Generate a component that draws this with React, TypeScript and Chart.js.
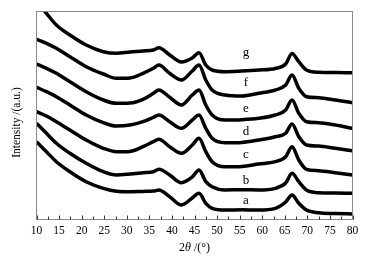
import React, { useEffect, useRef } from "react";
import { Chart, registerables } from "chart.js";

Chart.register(...registerables);

// 2θ (°) sampling positions
const twoTheta = [10, 12.2, 14.4, 17.4, 21, 24.8, 27.7, 30.7, 33.6, 35.9, 37.1, 39.5, 42.1, 44.5, 46, 47.5, 48.9, 51.8, 55.5, 59.2, 62.9, 65.2, 66.6, 68.1, 69.8, 72.5, 76.2, 80];

// Intensity (a.u., stacked offsets included) for each trace
const seriesA = [77.3, 67.3, 57.3, 47.3, 37.3, 30.7, 27.8, 27.3, 27.6, 27.9, 29, 22.3, 14, 21, 25.7, 15.7, 10.7, 9, 9.2, 9, 10.7, 17, 24, 15.7, 9, 6.3, 5.5, 5];
const seriesB = [95.7, 85.7, 75.7, 65.7, 55.7, 47.3, 44, 45, 46.3, 47.3, 49.7, 44, 36.3, 42, 49, 37.3, 32.3, 29, 29.3, 29, 30.7, 36, 45.7, 37.3, 29, 26.3, 26, 25.7];
const seriesC = [107.3, 103, 97.3, 89, 79, 70.7, 67.3, 67.6, 72.3, 77.3, 79.7, 72.3, 65.7, 74, 80.7, 67.3, 57.3, 52.3, 52.6, 55, 57.3, 62.3, 72.3, 59, 49.7, 48.3, 46.3, 44];
const seriesD = [131.7, 127.3, 122.3, 114, 104, 96.3, 93, 94, 97.3, 101.7, 104, 97.3, 90.7, 99, 104, 90.7, 80.7, 76.3, 76.6, 79, 82.3, 85.7, 95, 82.3, 74, 73, 70.7, 68.3];
const seriesE = [155, 150.7, 145.7, 137.3, 127.3, 119, 115.7, 116, 119.7, 125.7, 129, 121.7, 114, 124, 129, 114, 104, 99, 99.3, 100.7, 104, 109, 119, 105.7, 97.3, 96.3, 94, 90.7];
const seriesF = [179.7, 175.7, 170.7, 162.3, 152.3, 145, 140.7, 141, 145.7, 150.7, 154, 145.7, 139, 148, 154, 139, 129, 124, 123, 125.7, 129, 134, 144, 130.7, 122.3, 121.3, 119, 116.3];
const seriesG = [218, 205.7, 194, 184, 174, 167.3, 165.7, 167, 168, 169, 171.3, 164, 157, 161, 166.3, 154, 149, 147.3, 148, 149, 150.5, 155, 165.5, 157.3, 149, 146.7, 146.5, 146.3];

const seriesNames = ["a", "b", "c", "d", "e", "f", "g"];
const allSeries = [seriesA, seriesB, seriesC, seriesD, seriesE, seriesF, seriesG];

// Trace labels (placed in data coordinates)
const labelTwoTheta = [56.4, 56.4, 56.4, 56.4, 56.4, 56.4, 56.4];
const labelIntensity = [15, 35, 61, 84, 107.3, 133, 163.5];

const xMin = 10;
const xMax = 80;
const xMajorStep = 5;
const xMinorStep = 2.5;
const yMin = 0;
const yMax = 208;

const SERIF = "'Liberation Serif', 'Times New Roman', serif";

const decorPlugin = {
  id: "decor",
  afterDatasetsDraw(chart: any) {
    const { ctx, chartArea: ca, scales } = chart;
    const xs = scales.x;
    const ys = scales.y;
    ctx.save();
    // frame
    const l = Math.floor(ca.left) + 0.5;
    const t = Math.floor(ca.top) + 0.5;
    const r = Math.floor(ca.right) + 0.5;
    const b = Math.floor(ca.bottom) + 0.5;
    ctx.strokeStyle = "#8a8a8a";
    ctx.lineWidth = 1;
    ctx.strokeRect(l, t, r - l, b - t);
    // inward ticks on bottom axis
    ctx.strokeStyle = "#333";
    for (let v = xMin; v <= xMax + 1e-6; v += xMinorStep) {
      const px = Math.round(xs.getPixelForValue(v)) + 0.5;
      const major = Math.abs(v / xMajorStep - Math.round(v / xMajorStep)) < 1e-6;
      const len = major ? 4 : 3;
      ctx.beginPath();
      ctx.moveTo(px, b);
      ctx.lineTo(px, b - len);
      ctx.stroke();
    }
    // trace labels
    ctx.fillStyle = "#000";
    ctx.font = `13px ${SERIF}`;
    ctx.textAlign = "center";
    ctx.textBaseline = "alphabetic";
    seriesNames.forEach((n, i) => {
      ctx.fillText(n, xs.getPixelForValue(labelTwoTheta[i]), ys.getPixelForValue(labelIntensity[i]));
    });
    // x title: 2θ /(°)
    ctx.font = `12px ${SERIF}`;
    ctx.textAlign = "left";
    ctx.textBaseline = "middle";
    const p1 = "2";
    const p2 = "θ";
    const p3 = " /(°)";
    const w1 = ctx.measureText(p1).width;
    ctx.font = `italic 12px ${SERIF}`;
    const w2 = ctx.measureText(p2).width;
    ctx.font = `12px ${SERIF}`;
    const w3 = ctx.measureText(p3).width;
    const total = w1 + w2 + w3;
    let sx = (ca.left + ca.right) / 2 - total / 2;
    const ty = 248;
    ctx.fillText(p1, sx, ty);
    sx += w1;
    ctx.font = `italic 12px ${SERIF}`;
    ctx.fillText(p2, sx, ty);
    sx += w2;
    ctx.font = `12px ${SERIF}`;
    ctx.fillText(p3, sx, ty);
    // y title
    ctx.translate(17, 122.5);
    ctx.rotate(-Math.PI / 2);
    ctx.textAlign = "center";
    ctx.font = `11.5px ${SERIF}`;
    ctx.fillText("Intensity /(a.u.)", 0, 0);
    ctx.restore();
  },
};

export default function App() {
  const ref = useRef<HTMLCanvasElement | null>(null);
  useEffect(() => {
    if (!ref.current) return;
    const datasets = allSeries.map((s, i) => ({
      label: seriesNames[i],
      data: twoTheta.map((x, j) => ({ x, y: s[j] })),
      borderColor: "#000",
      borderWidth: 3.5,
      pointRadius: 0,
      cubicInterpolationMode: "monotone" as const,
      fill: false,
    }));
    const chart = new Chart(ref.current, {
      type: "line",
      data: { datasets },
      options: {
        animation: false,
        responsive: false,
        devicePixelRatio: 1,
        layout: { padding: { left: 36.5, top: 11, right: 19.5, bottom: 0 } },
        plugins: { legend: { display: false }, tooltip: { enabled: false } },
        scales: {
          x: {
            type: "linear",
            min: xMin,
            max: xMax,
            grid: { display: false, drawTicks: false },
            border: { display: false },
            ticks: {
              stepSize: xMajorStep,
              autoSkip: false,
              maxRotation: 0,
              padding: 5,
              color: "#000",
              font: { family: SERIF, size: 11.5 },
            },
            afterFit: (scale: any) => {
              scale.height = 44;
            },
          },
          y: {
            type: "linear",
            min: yMin,
            max: yMax,
            display: false,
          },
        },
      },
      plugins: [decorPlugin],
    });
    return () => chart.destroy();
  }, []);
  return (
    <div style={{ position: "absolute", left: 0, top: 0, width: 372, height: 263, background: "#fff" }}>
      <canvas ref={ref} width={372} height={263} style={{ display: "block" }} />
    </div>
  );
}
